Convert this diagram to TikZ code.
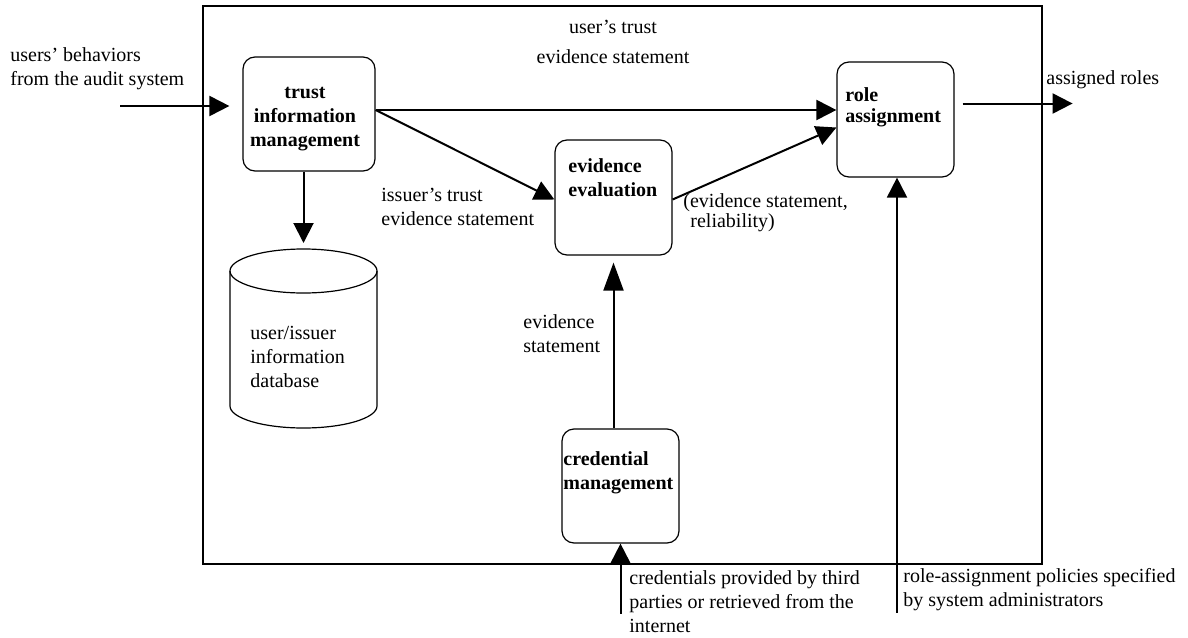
\documentclass[tikz,border=0pt]{standalone}
\usepackage{fontspec}
\setmainfont{Liberation Serif}
\usetikzlibrary{arrows.meta,positioning}

\begin{document}
\begin{tikzpicture}[
	x=0.5pt, y=-0.5pt,
	font=\fontsize{10pt}{12pt}\selectfont,
	box/.style={draw, line width=0.6pt, rounded corners=6pt, minimum width=58.5pt, minimum height=57.5pt, inner sep=0pt},
	txt/.style={inner sep=0pt, align=left, anchor=west},
	boxtxt/.style={txt, font=\fontsize{10pt}{12pt}\selectfont\bfseries},
	flow/.style={line width=1pt, -{Triangle[length=10pt,width=10pt]}}
	]
	\useasboundingbox (0,0) rectangle (1188,637);
	% outer frame
	\draw[line width=0.6pt] (203,6) rectangle (1042,564);

	% boxes
	\node[box, minimum width=66pt, minimum height=57pt] (trust) at (309,114) {};
	\node[box] (ev) at (613.5,197.5) {};
	\node[box] (role) at (895.5,119.5) {};
	\node[box, minimum height=57pt] (cred) at (620.5,486) {};

	\node[boxtxt, anchor=center, align=center] (trusttxt) at (305,119) {trust\\information\\management};
	\node[boxtxt] (evtxt) at (568,178) {evidence\\evaluation};
	\node[boxtxt, font=\fontsize{10pt}{10.5pt}\selectfont\bfseries] (roletxt) at (845,107.5) {role\\assignment};
	\node[boxtxt] (credtxt) at (563,472.5) {credential\\management};

	% database
	\draw[line width=0.6pt] (303.5,271) ellipse [x radius=36.75pt, y radius=11pt];
	\draw[line width=0.6pt] (230,271) -- (230,406) arc[start angle=180, end angle=360, x radius=36.75pt, y radius=11pt] -- (377,271);
	\coordinate (dbtop) at (303.5,249);
	\node[txt] (dbtxt) at (250,357) {user/issuer\\information\\database};

	% connectors
	\coordinate (usersin) at (120,106);
	\draw[flow, shorten >=6.5pt] (usersin) -- (usersin -| trust.west);
	\coordinate (trustout) at ([yshift=2pt]trust.east);
	\draw[flow] (trustout) -- (trustout -| role.west);
	\draw[flow] (trustout) -- ([yshift=-1pt]ev.west);
	\draw[flow] ([yshift=-1pt]ev.east) -- ([yshift=-4pt]role.west);
	\draw[flow, shorten >=3pt] (trust.south -| dbtop) -- (dbtop);
	\draw[line width=1pt, -{Triangle[length=14pt,width=10pt]}, shorten >=3.5pt] (cred.north -| ev.south) -- (ev.south);
	\coordinate (roleout) at ([xshift=4pt,yshift=8pt]role.east);
	\coordinate (roles) at ([xshift=55pt]roleout);
	\draw[flow] (roleout) -- (roles);
	\coordinate (credin) at ([yshift=-35pt]cred.south);
	\draw[flow] (credin) -- (cred.south);
	\coordinate (policies) at ([xshift=0.75pt,yshift=-217.5pt]role.south);
	\draw[flow] (policies) -- (policies |- role.south);

	% labels
	\node[txt] (userslbl) at (10,69) {users’ behaviors\\from the audit system};
	\node[txt, anchor=center, align=center] (usertrust) at (613,41.5) {user’s trust\\[3pt]evidence statement};
	\node[txt] (issuertrust) at (381,206.5) {issuer’s trust\\evidence statement};
	\node[txt, font=\fontsize{10pt}{10pt}\selectfont] (evrel) at (683,213) {(evidence statement,\\\hspace*{3.5pt}reliability)};
	\node[txt] (evstmt) at (523,333.5) {evidence\\statement};
	\node[txt] (assigned) at (1046,80) {assigned roles};
	\node[txt] (credlbl) at (629,601.5) {credentials provided by third\\parties or retrieved from the\\internet};
	\node[txt] (policylbl) at (903,590) {role-assignment policies specified\\by system administrators};
\end{tikzpicture}
\end{document}
